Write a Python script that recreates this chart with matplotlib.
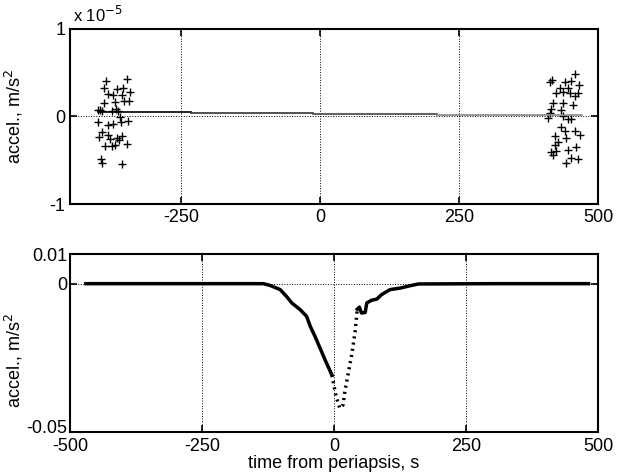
import numpy as np
import matplotlib
matplotlib.use('Agg')
import matplotlib.pyplot as plt
import matplotlib.transforms as mtransforms

plt.rcParams['font.family'] = ['Liberation Sans', 'DejaVu Sans']
plt.rcParams['axes.unicode_minus'] = False

# top panel: scattered residuals (units of 1e-5 m/s^2)
left_t = [-386, -347, -389, -354, -381, -372, -365, -357, -342, -353, -389, -369, -344,
          -400, -393, -374, -368, -363, -396, -399, -381, -372, -359, -345, -360,
          -393, -398, -381, -378, -366, -357, -361, -387, -375, -369, -348, -395, -393, -356]
left_a = [0.41, 0.43, 0.33, 0.33, 0.26, 0.25, 0.31, 0.24, 0.28, 0.18, 0.15, 0.17, 0.18,
          0.07, 0.06, 0.06, 0.08, 0.06, 0.07, -0.06, -0.10, -0.08, -0.06, -0.05, -0.01,
          -0.18, -0.23, -0.21, -0.26, -0.25, -0.22, -0.27, -0.34, -0.34, -0.33, -0.31, -0.48, -0.53, -0.54]
right_t = [458, 418, 413, 440, 452, 466, 431, 446, 425, 437, 449, 464, 458, 419, 437, 455,
           416, 434, 413, 410, 437, 446, 452, 434, 440, 458, 467, 422, 443, 428, 422, 461,
           446, 416, 425, 419, 452, 464, 442]
right_a = [0.49, 0.42, 0.39, 0.39, 0.40, 0.36, 0.32, 0.32, 0.27, 0.28, 0.27, 0.27, 0.23, 0.15,
           0.15, 0.13, 0.09, 0.07, 0.04, -0.02, 0.0, -0.03, -0.03, -0.12, -0.17, -0.17, -0.21,
           -0.22, -0.25, -0.29, -0.33, -0.35, -0.38, -0.40, -0.39, -0.44, -0.47, -0.49, -0.53]

# piecewise fit line in top panel
fit_t = [[-400, -232], [-232, -13], [-13, 210], [210, 472]]
fit_a = [0.05, 0.04, 0.03, 0.015]
fit_colors = ['black', '#333333', '#444444', '#888888']

# bottom panel: measured acceleration, m/s^2
acc_t = [-470, -300, -134, -121, -102, -90, -80, -64, -52, -45, -36, -27, -17, -4,
         -1, 4, 11, 17, 21, 27, 34, 40, 44, 48, 52, 59, 62, 71, 81, 90, 106, 125, 144, 160, 300, 482]
acc_a = [0.0, 0.0, 0.0, -0.0006, -0.002, -0.0043, -0.0065, -0.0088, -0.011, -0.0144, -0.0178,
         -0.0215, -0.0257, -0.0308, -0.0336, -0.0381, -0.042, -0.0409, -0.0358, -0.0302, -0.0234,
         -0.0160, -0.0086, -0.0079, -0.0099, -0.0097, -0.0065, -0.0056, -0.0052, -0.0037, -0.002,
         -0.0015, -0.0007, -0.0001, 0.0, 0.0]
sparse_from, sparse_to = 13, 22   # steep part drawn as separate dots


def style_axes(ax):
    ax.tick_params(direction='in', top=True, right=True, length=5, width=1.2, labelsize=13)
    for s in ax.spines.values():
        s.set_linewidth(1.5)
    ax.grid(True, color='black', linestyle=':', linewidth=0.7)
    ax.set_axisbelow(True)


fig = plt.figure(figsize=(6.17, 4.73), dpi=100)
ax1 = fig.add_axes([0.1135, 0.5687, 0.8558, 0.370])
ax2 = fig.add_axes([0.1135, 0.0867, 0.8558, 0.3763])

ax1.plot(left_t, left_a, '+', color='black', ms=6, mew=1)
ax1.plot(right_t, right_a, '+', color='black', ms=6, mew=1)
for seg_t, a, c in zip(fit_t, fit_a, fit_colors):
    ax1.plot(seg_t, [a, a], color=c, lw=1.2)
ax1.set_xlim(-450, 500)
ax1.set_ylim(-1, 1)
ax1.set_xticks([-250, 0, 250, 500])
ax1.set_yticks([-1, 0, 1])
ax1.set_yticklabels(['-1', '0', '1'])
ax1.set_ylabel('accel., m/s$^2$', fontsize=13)
ax1.yaxis.set_label_coords(-0.085, 0.5)
ax1.text(0.005, 1.02, r'x 10$^{-5}$', transform=ax1.transAxes, fontsize=12, va='bottom')
style_axes(ax1)

t = np.array(acc_t)
a = np.array(acc_a)
ax2.plot(t[:sparse_from + 1], a[:sparse_from + 1], color='black', lw=2.5)
ax2.plot(t[sparse_from:sparse_to + 1], a[sparse_from:sparse_to + 1], color='black', lw=2.5,
         linestyle=(0, (0.6, 1.2)))
ax2.plot(t[sparse_to:], a[sparse_to:], color='black', lw=2.5)
ax2.set_xlim(-500, 500)
ax2.set_ylim(-0.05, 0.01)
ax2.set_xticks([-500, -250, 0, 250, 500])
ax2.set_yticks([-0.05, 0, 0.01])
ax2.set_yticklabels(['-0.05', '0', '0.01'])
ax2.set_ylabel('accel., m/s$^2$', fontsize=13)
ax2.yaxis.set_label_coords(-0.085, 0.40)
ax2.set_xlabel('time from periapsis, s', fontsize=13, labelpad=0)
style_axes(ax2)
ax2.tick_params(axis='x', pad=4)
ax2.tick_params(axis='y', pad=2)
# lift the lowest y label a little so it clears the x labels
lowest = ax2.get_yticklabels()[0]
lowest.set_transform(lowest.get_transform() + mtransforms.ScaledTranslation(0, 4 / 72, fig.dpi_scale_trans))

fig.savefig('out.png', dpi=100)
